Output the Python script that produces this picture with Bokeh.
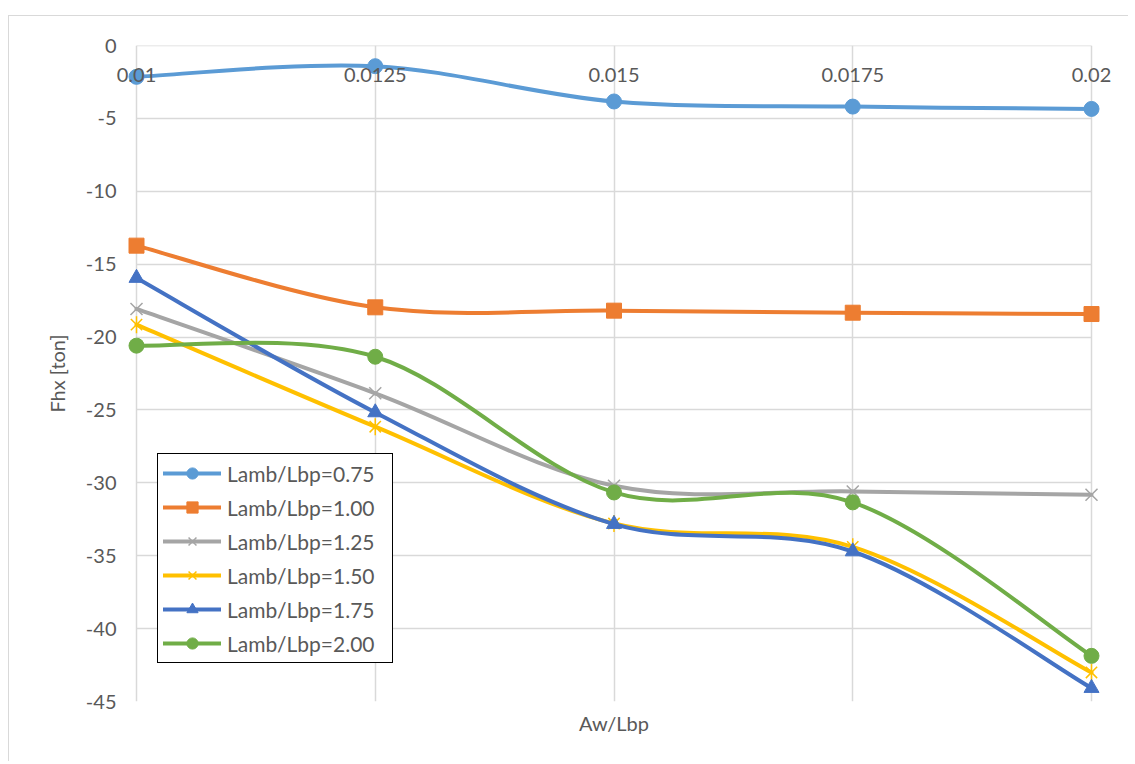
import math
from bokeh.plotting import figure
from bokeh.models import Range1d, FixedTicker, LinearAxis, Legend, LegendItem, ColumnDataSource
from bokeh.embed import file_html
from bokeh.resources import INLINE

# ---------------- data ----------------
aw_lbp = [0.01, 0.0125, 0.015, 0.0175, 0.02]
x_tick_labels = ["0.01", "0.0125", "0.015", "0.0175", "0.02"]
y_ticks = [0, -5, -10, -15, -20, -25, -30, -35, -40, -45]
y_tick_labels = ["0", "-5", "-10", "-15", "-20", "-25", "-30", "-35", "-40", "-45"]

series_names = ["Lamb/Lbp=0.75", "Lamb/Lbp=1.00", "Lamb/Lbp=1.25",
                "Lamb/Lbp=1.50", "Lamb/Lbp=1.75", "Lamb/Lbp=2.00"]
fhx_075 = [-2.15, -1.42, -3.84, -4.19, -4.35]
fhx_100 = [-13.73, -17.96, -18.19, -18.33, -18.42]
fhx_125 = [-18.07, -23.86, -30.20, -30.59, -30.82]
fhx_150 = [-19.15, -26.15, -32.79, -34.39, -43.01]
fhx_175 = [-15.95, -25.17, -32.83, -34.71, -44.08]
fhx_200 = [-20.59, -21.35, -30.66, -31.34, -41.87]
series_values = [fhx_075, fhx_100, fhx_125, fhx_150, fhx_175, fhx_200]

colors = ["#5B9BD5", "#ED7D31", "#A5A5A5", "#FFC000", "#4472C4", "#70AD47"]
markers = ["circle", "square", "x", "star6", "triangle", "circle"]

FONT = "Lato"
TXT = "#595959"
GRID = "#D9D9D9"


def smooth_source(xs, ys):
    """Bezier control points for a smoothed line through the data points."""
    n = len(xs)
    d = dict(x0=[], y0=[], x1=[], y1=[], cx0=[], cy0=[], cx1=[], cy1=[])
    for i in range(n - 1):
        a = max(i - 1, 0)
        b = min(i + 2, n - 1)
        d["x0"].append(xs[i]); d["y0"].append(ys[i])
        d["x1"].append(xs[i + 1]); d["y1"].append(ys[i + 1])
        d["cx0"].append(xs[i] + (xs[i + 1] - xs[a]) / 6.0)
        d["cy0"].append(ys[i] + (ys[i + 1] - ys[a]) / 6.0)
        d["cx1"].append(xs[i + 1] - (xs[b] - xs[i]) / 6.0)
        d["cy1"].append(ys[i + 1] - (ys[b] - ys[i]) / 6.0)
    return ColumnDataSource(d)


# room on both sides of the category span so edge labels/markers are not clipped
xpad = 22 * (aw_lbp[-1] - aw_lbp[0]) / 955.0

p = figure(width=1120, height=746,
           x_range=Range1d(aw_lbp[0] - xpad, aw_lbp[-1] + xpad),
           y_range=Range1d(y_ticks[-1], y_ticks[0]),
           output_backend="svg", toolbar_location=None,
           min_border_left=105, min_border_right=16,
           min_border_top=29, min_border_bottom=61)
p.styles = {"margin-left": "8px", "margin-top": "15px",
            "border-top": "1px solid #D9D9D9", "border-left": "1px solid #D9D9D9"}
p.outline_line_color = None
p.background_fill_color = "white"
p.border_fill_color = "white"

# x axis: labels sit under the y=0 line
xa = p.xaxis[0]
xa.fixed_location = 0
xa.ticker = FixedTicker(ticks=aw_lbp)
xa.major_label_overrides = {v: s for v, s in zip(aw_lbp, x_tick_labels)}
xa.bounds = (aw_lbp[0], aw_lbp[-1])
xa.axis_line_color = GRID
xa.axis_line_width = 1.5
xa.major_tick_line_color = None
xa.minor_tick_line_color = None
xa.major_tick_out = 0
xa.major_tick_in = 0
xa.major_label_standoff = 22
xa.major_label_text_font = FONT
xa.major_label_text_font_size = "20px"
xa.major_label_text_color = TXT

# y axis (its line is the 0.01 grid line)
ya = p.yaxis[0]
ya.ticker = FixedTicker(ticks=y_ticks)
ya.major_label_overrides = {v: s for v, s in zip(y_ticks, y_tick_labels)}
ya.axis_line_color = None
ya.major_tick_line_color = None
ya.minor_tick_line_color = None
ya.major_tick_out = 0
ya.major_tick_in = 0
ya.major_label_standoff = -2
ya.major_label_text_font = FONT
ya.major_label_text_font_size = "20px"
ya.major_label_text_color = TXT
ya.axis_label = "Fhx [ton]"
ya.axis_label_standoff = 14
ya.axis_label_text_font = FONT
ya.axis_label_text_font_size = "20px"
ya.axis_label_text_font_style = "normal"
ya.axis_label_text_color = TXT

# x axis title
title_axis = LinearAxis(ticker=FixedTicker(ticks=[]), axis_label="Aw/Lbp",
                        axis_line_color=None, major_tick_line_color=None,
                        minor_tick_line_color=None, major_tick_out=0, major_tick_in=0,
                        major_label_text_font_size="0px", axis_label_standoff=9,
                        axis_label_text_font=FONT, axis_label_text_font_size="20px",
                        axis_label_text_font_style="normal", axis_label_text_color=TXT)
p.add_layout(title_axis, "below")

# grids
p.xgrid.ticker = xa.ticker
p.ygrid.ticker = ya.ticker
p.xgrid.grid_line_color = GRID
p.ygrid.grid_line_color = GRID
p.xgrid.grid_line_width = 1.5
p.ygrid.grid_line_width = 1.5
p.ygrid.cross_bounds = (aw_lbp[0], aw_lbp[-1])

items = []
for name, vals, col, mk in zip(series_names, series_values, colors, markers):
    src = smooth_source(aw_lbp, vals)
    r_line = p.bezier(x0="x0", y0="y0", x1="x1", y1="y1", cx0="cx0", cy0="cy0",
                      cx1="cx1", cy1="cy1", source=src, line_color=col, line_width=4,
                      line_cap="round", line_join="round")
    rends = [r_line]
    if mk in ("circle", "square", "triangle"):
        r_m = p.scatter(aw_lbp, vals, marker=mk, size=15, fill_color=col, line_color=col,
                        line_width=1)
        rends.append(r_m)
    elif mk == "x":
        r_m = p.scatter(aw_lbp, vals, marker="x", size=17, line_color=col, line_width=1.5)
        rends.append(r_m)
    else:
        r_m = p.scatter(aw_lbp, vals, marker="x", size=16, line_color=col, line_width=1.5)
        r_m2 = p.scatter(aw_lbp, vals, marker="dash", size=17, angle=math.pi / 2,
                         line_color=col, line_width=1.5)
        rends += [r_m, r_m2]
    items.append(LegendItem(label=name, renderers=rends))

legend = Legend(items=items, location=(43, 38), border_line_color="black",
                border_line_width=1, border_line_alpha=1, padding=5, spacing=6,
                glyph_width=58, glyph_height=28, label_height=28, label_standoff=6,
                label_width=160,
                label_text_font=FONT, label_text_font_size="21px", label_text_color=TXT,
                background_fill_color="white", background_fill_alpha=1, margin=0)
p.add_layout(legend, "center")

open("out.html", "w").write(file_html(p, INLINE))
